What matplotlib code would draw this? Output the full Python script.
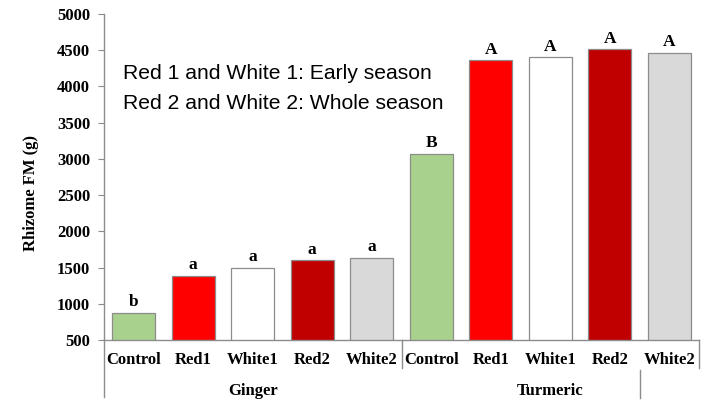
import matplotlib.pyplot as plt
import numpy as np

# Data
categories = ["Control", "Red1", "White1", "Red2", "White2",
              "Control", "Red1", "White1", "Red2", "White2"]
groups = ["Ginger", "Turmeric"]
values = [875, 1390, 1500, 1600, 1630,
          3070, 4360, 4400, 4510, 4460]
letters = ["b", "a", "a", "a", "a", "B", "A", "A", "A", "A"]
colors = ["#a9d18e", "#ff0000", "#ffffff", "#c00000", "#d9d9d9"] * 2
yticks = [500, 1000, 1500, 2000, 2500, 3000, 3500, 4000, 4500, 5000]

serif = "Liberation Serif"
sans = "Liberation Sans"

fig = plt.figure(figsize=(7.07, 4.01), dpi=100)
ax = fig.add_axes([104 / 707, (401 - 340) / 401, 595 / 707, 326 / 401])

x = np.arange(len(values))
bars = ax.bar(x, values, width=0.72, color=colors, edgecolor="#8c8c8c",
              linewidth=0.9, bottom=0)
ax.set_xlim(-0.5, 9.5)
ax.set_ylim(500, 5000)
ax.set_yticks(yticks)
ax.set_yticklabels([str(t) for t in yticks], fontfamily=serif,
                   fontweight="bold", fontsize=12)
ax.set_xticks(x)
ax.set_xticklabels(categories, fontfamily=serif, fontweight="bold",
                   fontsize=12)
ax.tick_params(axis="x", length=0, pad=9)
ax.tick_params(axis="y", length=4, color="#8c8c8c", pad=6)

for s in ["top", "right"]:
    ax.spines[s].set_visible(False)
for s in ["left", "bottom"]:
    ax.spines[s].set_color("#8c8c8c")
    ax.spines[s].set_linewidth(1.0)

ax.set_ylabel("Rhizome FM (g)", fontfamily=serif, fontweight="bold",
              fontsize=12)
ax.yaxis.set_label_coords(-0.109, 0.451)

# significance letters
for xi, v, lab in zip(x, values, letters):
    ax.annotate(lab, (xi, v), xytext=(0, 2), textcoords="offset points",
                ha="center", va="bottom", fontfamily=serif,
                fontweight="bold", fontsize=12.5)

# group labels and separators under the axis
tr = ax.get_xaxis_transform()
ax.text(2, -0.155, groups[0], transform=tr, ha="center", va="center",
        fontfamily=serif, fontweight="bold", fontsize=12)
ax.text(7, -0.155, groups[1], transform=tr, ha="center", va="center",
        fontfamily=serif, fontweight="bold", fontsize=12)
line_kw = dict(transform=tr, color="#8c8c8c", linewidth=1.0, clip_on=False)
ax.plot([-0.5, -0.5], [0, -0.175], **line_kw)
ax.plot([4.5, 4.5], [0, -0.086], **line_kw)
ax.plot([9.5, 9.5], [0, -0.086], **line_kw)
ax.plot([8.5, 8.5], [-0.092, -0.178], **line_kw)

# legend note
ax.text(0.032, 0.819, "Red 1 and White 1: Early season",
        transform=ax.transAxes, ha="left", va="center",
        fontfamily=sans, fontsize=15.2)
ax.text(0.032, 0.726, "Red 2 and White 2: Whole season",
        transform=ax.transAxes, ha="left", va="center",
        fontfamily=sans, fontsize=15.2)

fig.savefig("out.png", dpi=100)
